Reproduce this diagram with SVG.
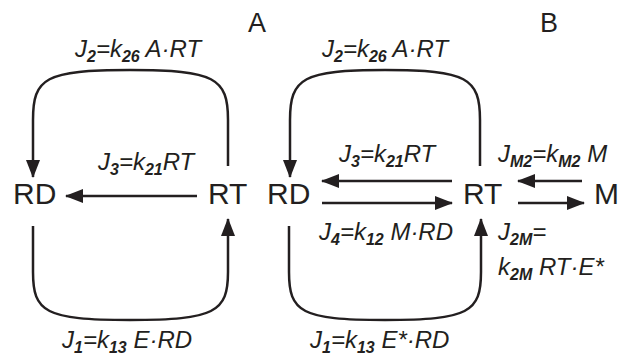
<svg xmlns="http://www.w3.org/2000/svg" width="624" height="358" viewBox="0 0 624 358">
<style>
.node{font-family:"Liberation Sans",Arial,sans-serif;font-size:30px;fill:#231f20}
.panel{font-family:"Liberation Sans",Arial,sans-serif;font-size:27px;fill:#231f20}
.lbl{font-family:"Liberation Sans",Arial,sans-serif;font-size:24px;font-style:italic;fill:#231f20}
.sub{font-size:16px;font-weight:bold}
.edge{fill:none;stroke:#231f20;stroke-width:2.5}
</style>
<defs>
<marker id="ah" markerUnits="userSpaceOnUse" markerWidth="18" markerHeight="14" refX="17" refY="7" orient="auto">
<path d="M0,0 L18,7 L0,14 z" fill="#231f20"/>
</marker>
</defs>
<text class="panel" x="248" y="32">A</text>
<text class="panel" x="540" y="32">B</text>
<g id="connectors">
<path class="edge" marker-end="url(#ah)" d="M228,166 L228,120 C228,78 215,70 130,70 C45,70 33,78 33,120 L33,177"/>
<path class="edge" marker-end="url(#ah)" d="M197,196 L66,196"/>
<path class="edge" marker-end="url(#ah)" d="M33,226 L33,272 C33,312 45,320 130,320 C215,320 228,312 228,272 L228,219"/>
<path class="edge" marker-end="url(#ah)" d="M480,166 L480,120 C480,78 467,70 385,70 C303,70 290,78 290,120 L290,177"/>
<path class="edge" marker-end="url(#ah)" d="M452,181 L322,181"/>
<path class="edge" marker-end="url(#ah)" d="M322,203 L452,203"/>
<path class="edge" marker-end="url(#ah)" d="M289,226 L289,272 C289,312 301,320 385,320 C469,320 481,312 481,272 L481,219"/>
<path class="edge" marker-end="url(#ah)" d="M582,181 L518,181"/>
<path class="edge" marker-end="url(#ah)" d="M518,203 L584,203"/>
</g>
<g id="RD_A"><text class="node" x="13" y="204">RD</text></g>
<g id="RT_A"><text class="node" x="208" y="204">RT</text></g>
<g id="RD_B"><text class="node" x="267" y="204">RD</text></g>
<g id="RT_B"><text class="node" x="463" y="204">RT</text></g>
<g id="M_B"><text class="node" x="594" y="204">M</text></g>
<g id="labels">
<text class="lbl" x="75" y="57">J<tspan class="sub" dy="5">2</tspan><tspan dy="-5">=k</tspan><tspan class="sub" dy="5">26</tspan><tspan dy="-5"> A·RT</tspan></text>
<text class="lbl" x="98" y="170">J<tspan class="sub" dy="5">3</tspan><tspan dy="-5">=k</tspan><tspan class="sub" dy="5">21</tspan><tspan dy="-5">RT</tspan></text>
<text class="lbl" x="62" y="348">J<tspan class="sub" dy="5">1</tspan><tspan dy="-5">=k</tspan><tspan class="sub" dy="5">13</tspan><tspan dy="-5"> E·RD</tspan></text>
<text class="lbl" x="322" y="57">J<tspan class="sub" dy="5">2</tspan><tspan dy="-5">=k</tspan><tspan class="sub" dy="5">26</tspan><tspan dy="-5"> A·RT</tspan></text>
<text class="lbl" x="339" y="162">J<tspan class="sub" dy="5">3</tspan><tspan dy="-5">=k</tspan><tspan class="sub" dy="5">21</tspan><tspan dy="-5">RT</tspan></text>
<text class="lbl" x="319" y="240">J<tspan class="sub" dy="5">4</tspan><tspan dy="-5">=k</tspan><tspan class="sub" dy="5">12</tspan><tspan dy="-5"> M·RD</tspan></text>
<text class="lbl" x="310" y="348">J<tspan class="sub" dy="5">1</tspan><tspan dy="-5">=k</tspan><tspan class="sub" dy="5">13</tspan><tspan dy="-5"> E*·RD</tspan></text>
<text class="lbl" x="498" y="162">J<tspan class="sub" dy="5">M2</tspan><tspan dy="-5">=k</tspan><tspan class="sub" dy="5">M2</tspan><tspan dy="-5"> M</tspan></text>
<text class="lbl" x="498" y="240">J<tspan class="sub" dy="5">2M</tspan><tspan dy="-5">=</tspan></text>
<text class="lbl" x="498" y="275">k<tspan class="sub" dy="5">2M</tspan><tspan dy="-5"> RT·E*</tspan></text>
</g>
</svg>
